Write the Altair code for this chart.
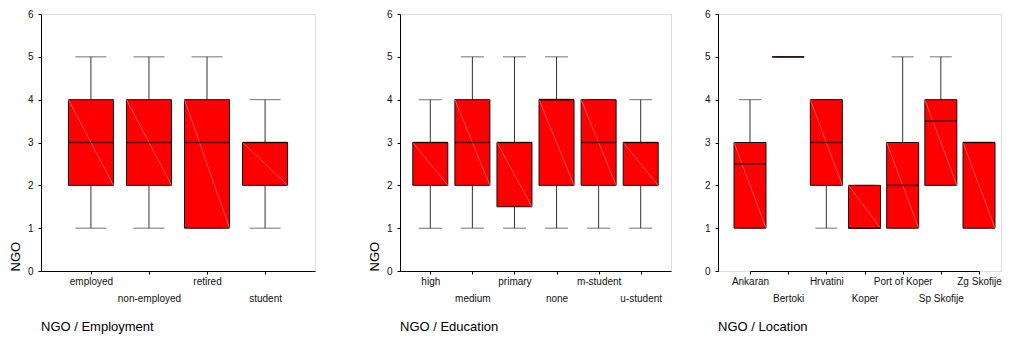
import altair as alt
import pandas as pd

# ---- data ----
emp_cats = ["employed", "non-employed", "retired", "student"]
emp_min = [1, 1, 1, 1]
emp_q1 = [2, 2, 1, 2]
emp_med = [3, 3, 3, 3]
emp_q3 = [4, 4, 4, 3]
emp_max = [5, 5, 5, 4]

edu_cats = ["high", "medium", "primary", "none", "m-student", "u-student"]
edu_min = [1, 1, 1, 1, 1, 1]
edu_q1 = [2, 2, 1.5, 2, 2, 2]
edu_med = [3, 3, 3, 4, 3, 3]
edu_q3 = [3, 4, 3, 4, 4, 3]
edu_max = [4, 5, 5, 5, 4, 4]

loc_cats = ["Ankaran", "Bertoki", "Hrvatini", "Koper", "Port of Koper", "Sp Skofije", "Zg Skofije"]
loc_min = [1, 5, 1, 1, 1, 2, 1]
loc_q1 = [1, 5, 2, 1, 1, 2, 1]
loc_med = [2.5, 5, 3, 1, 2, 3.5, 3]
loc_q3 = [3, 5, 4, 2, 3, 4, 3]
loc_max = [4, 5, 4, 2, 5, 5, 3]

y_ticks = [0, 1, 2, 3, 4, 5, 6]

FONT = "Liberation Sans"
PLOT_H = 257


def panel(cats, mn, q1, med, q3, mx, title, width, xscale, box_w, cap_w, show_ytitle):
    df = pd.DataFrame({"cat": cats, "min": mn, "q1": q1, "med": med, "q3": q3, "max": mx})
    arr = "[" + ",".join("'" + c + "'" for c in cats) + "]"
    x = alt.X("cat:N", scale=xscale, sort=cats,
              axis=alt.Axis(title=None, labelAngle=0, labelFont=FONT, labelFontSize=10,
                            labelColor="#111", tickSize=3, labelPadding=2, domainColor="#000",
                            tickColor="#000", labelLineHeight=17, labelOverlap=False,
                            labelExpr="indexof(" + arr + ", datum.value) % 2 == 1 ? ['', datum.label] : datum.label"))
    yscale = alt.Scale(domain=[0, 6], nice=False)
    yaxis = alt.Axis(values=y_ticks, grid=False, labelFont=FONT, labelFontSize=10, labelColor="#111",
                     tickSize=3, labelPadding=5, domainColor="#000", tickColor="#000", labelOverlap=False,
                     title="NGO" if show_ytitle else None, titleFont=FONT, titleFontSize=13,
                     titleFontWeight="normal", titleAnchor="start", titlePadding=5, titleColor="#000")
    base = alt.Chart(df)
    whisk_hi = base.mark_rule(color="#333", strokeWidth=1).encode(
        x=x, y=alt.Y("q3:Q", scale=yscale, axis=yaxis), y2="max:Q")
    whisk_lo = base.mark_rule(color="#333", strokeWidth=1).encode(x=x, y="q1:Q", y2="min:Q")
    cap_hi = base.mark_tick(orient="horizontal", size=cap_w, thickness=1, color="#333").encode(x=x, y="max:Q")
    cap_lo = base.mark_tick(orient="horizontal", size=cap_w, thickness=1, color="#333").encode(x=x, y="min:Q")
    box = base.mark_bar(width=box_w, color="#ff0000", stroke="#111", strokeWidth=1).encode(
        x=x, y="q1:Q", y2="q3:Q")
    diag = base.mark_rule(color="#ff8c8c", strokeWidth=0.6,
                          xOffset=-box_w / 2, x2Offset=box_w / 2).encode(
        x=x, x2="cat:N", y="q3:Q", y2="q1:Q")
    median = base.mark_tick(orient="horizontal", size=box_w, thickness=1.6, color="#1a0000").encode(
        x=x, y="med:Q")
    return alt.layer(whisk_hi, whisk_lo, cap_hi, cap_lo, box, diag, median).properties(
        width=width, height=PLOT_H,
        title=alt.TitleParams(title, orient="bottom", anchor="start", frame="group", font=FONT,
                              fontSize=13, fontWeight="normal", color="#000", offset=18))


p1 = panel(emp_cats, emp_min, emp_q1, emp_med, emp_q3, emp_max, "NGO / Employment", 274,
           alt.Scale(type="point", domain=emp_cats, padding=0.86), 45, 31, True)
p2 = panel(edu_cats, edu_min, edu_q1, edu_med, edu_q3, edu_max, "NGO / Education", 271,
           alt.Scale(type="point", domain=edu_cats, padding=0.72), 35, 23, True)
# the last panel runs past the right edge in the reference; keep it inside the window
p3 = panel(loc_cats, loc_min, loc_q1, loc_med, loc_q3, loc_max, "NGO / Location", 283,
           alt.Scale(type="point", domain=loc_cats, range=[32, 261], padding=0), 32, 22, False)

chart = alt.hconcat(p1, alt.hconcat(p2, p3, spacing=31), spacing=51).properties(
    padding={"left": 0, "top": 0, "right": 0, "bottom": 0}
).configure_view(stroke="#666", strokeWidth=1).configure(background="white")

chart.save("out.html", embed_options={"renderer": "svg", "actions": False})
